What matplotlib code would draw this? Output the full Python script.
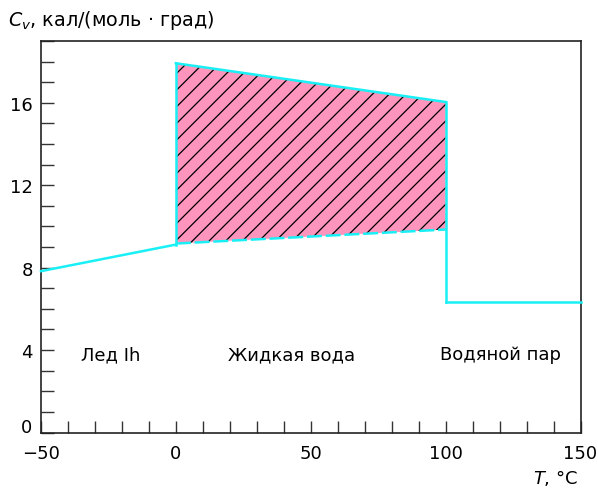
import matplotlib
matplotlib.use("Agg")
import matplotlib.pyplot as plt
from matplotlib.ticker import MultipleLocator, FixedLocator, FixedFormatter

plt.rcParams['font.family'] = ['DejaVu Sans']
plt.rcParams['hatch.linewidth'] = 0.9
plt.rcParams['mathtext.fontset'] = 'dejavusans'

# Data
ice_T = [-50, 0]
ice_C = [7.83, 9.12]
liq_T = [0, 100]
liq_top = [17.92, 16.04]
liq_bot = [9.17, 9.85]
steam_T = [100, 150]
steam_C = [6.31, 6.31]
labels = ["Лед Ih", "Жидкая вода", "Водяной пар"]
label_x = [-24.0, 43.0, 120.2]
label_y = [3.8, 3.8, 3.8]
xticks = [-50, 0, 50, 100, 150]
xticklabels = ['\u221250', '0', '50', '100', '150']
yticks = [0, 4, 8, 12, 16]
yticklabels = ['', '4', '8', '12', '16']

cyan = '#19f0f5'
pink = '#ff94bd'
fs = 13

fig = plt.figure(figsize=(5.98, 4.89), dpi=100)
ax = fig.add_axes([41/598, 1-433.5/489, (580.5-41)/598, (433.5-42)/489])

ax.fill_between(liq_T, liq_bot, liq_top, facecolor=pink, edgecolor='black',
                hatch='//', linewidth=0, zorder=1)
ax.plot(liq_T, liq_bot, color=cyan, lw=1.8, dashes=(6, 1.5), zorder=3)
ax.plot(liq_T, liq_top, color=cyan, lw=1.8, zorder=3)
ax.plot(ice_T, ice_C, color=cyan, lw=1.8, zorder=3, clip_on=False)
ax.plot([0, 0], [ice_C[1], liq_top[0]], color=cyan, lw=1.8, zorder=3)
ax.plot([100, 100], [steam_C[0], liq_top[1]], color=cyan, lw=1.8, zorder=3)
ax.plot(steam_T, steam_C, color=cyan, lw=1.8, zorder=3, clip_on=False)

for t, x, y in zip(labels, label_x, label_y):
    ax.text(x, y, t, ha='center', va='center', fontsize=fs)

ax.set_xlim(-50, 150)
ax.set_ylim(0, 19)
ax.xaxis.set_major_locator(FixedLocator(xticks))
ax.xaxis.set_major_formatter(FixedFormatter(xticklabels))
ax.xaxis.set_minor_locator(MultipleLocator(10))
ax.yaxis.set_major_locator(FixedLocator(yticks))
ax.yaxis.set_major_formatter(FixedFormatter(yticklabels))
ax.yaxis.set_minor_locator(MultipleLocator(1))
ax.tick_params(which='both', direction='in', length=9, width=1.0, color='#333333',
               labelsize=fs, top=False, right=False)
ax.tick_params(axis='x', which='major', pad=8)
ax.tick_params(axis='y', which='major', pad=6)
for s in ax.spines.values():
    s.set_linewidth(1.2)
    s.set_color('#222222')

# zero label of y axis sits slightly above the axis line
fig.text(32/598, 1-428/489, '0', fontsize=fs, va='center', ha='right')

fig.text(8/598, 1-20/489, r'$C_{\mathit{v}}$, кал/(моль · град)', fontsize=13.8, va='center', ha='left')
fig.text(578/598, 1-478/489, r'$T$, °C', fontsize=fs, va='center', ha='right')

fig.savefig('out.png', dpi=100)
